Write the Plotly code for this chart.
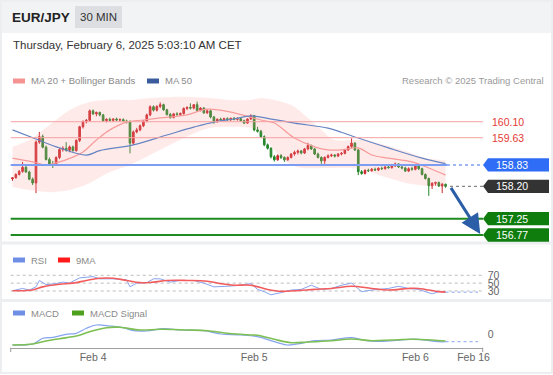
import pandas as pd
import plotly.graph_objects as go

# ---------------- data ----------------
times = pd.date_range("2025-02-03 12:00", periods=130, freq="30min")

open_ = [158.42,158.45,158.55,158.64,158.76,158.62,158.41,158.30,159.50,159.66,
         159.35,158.99,158.86,158.84,159.05,159.28,159.32,159.26,159.36,159.25,
         159.55,159.95,160.10,160.14,160.42,160.33,160.37,160.30,160.13,160.17,
         160.14,160.18,160.15,160.16,160.12,160.10,159.47,159.80,159.86,159.98,
         160.12,160.30,160.54,160.44,160.55,160.60,160.45,160.31,160.22,160.33,
         160.31,160.34,160.49,160.52,160.50,160.60,160.43,160.50,160.36,160.42,
         160.24,160.10,160.17,160.15,160.19,160.16,160.20,160.17,160.19,160.13,
         160.06,160.18,160.28,159.86,159.82,159.66,159.42,159.32,159.07,158.98,
         159.10,159.05,158.98,159.05,159.15,159.20,159.24,159.18,159.30,159.40,
         159.30,159.15,159.05,158.95,159.05,159.10,159.12,159.09,159.15,159.17,
         159.27,159.37,159.47,159.27,158.63,158.58,158.67,158.66,158.70,158.68,
         158.73,158.72,158.77,158.75,158.80,158.86,158.77,158.74,158.65,158.72,
         158.70,158.80,158.72,158.55,158.43,158.22,158.29,158.31,158.21,158.26]
high = [158.47,158.58,158.68,158.92,158.80,158.66,158.46,159.55,159.80,159.72,
        159.40,159.05,158.95,159.08,159.32,159.38,159.50,159.40,159.40,159.58,
        159.98,160.14,160.18,160.46,160.46,160.40,160.40,160.33,160.20,160.22,
        160.20,160.22,160.20,160.20,160.16,160.14,159.84,159.92,160.02,160.14,
        160.34,160.58,160.58,160.58,160.67,160.63,160.48,160.36,160.36,160.38,
        160.37,160.52,160.55,160.64,160.62,160.69,160.53,160.53,160.46,160.45,
        160.27,160.20,160.22,160.22,160.23,160.22,160.24,160.23,160.22,160.16,
        160.20,160.32,160.30,159.95,159.86,159.70,159.46,159.35,159.12,159.14,
        159.15,159.08,159.08,159.18,159.25,159.28,159.27,159.33,159.48,159.43,
        159.33,159.19,159.08,159.08,159.14,159.16,159.15,159.18,159.21,159.30,
        159.40,159.61,159.50,159.30,158.68,158.70,158.72,158.74,158.75,158.76,
        158.78,158.80,158.82,158.84,158.90,158.88,158.81,158.78,158.76,158.78,
        158.85,158.83,158.75,158.58,158.46,158.32,158.34,158.34,158.30,158.28]
low = [158.36,158.43,158.52,158.60,158.60,158.38,158.24,158.00,159.45,159.32,
       158.96,158.80,158.74,158.80,159.00,159.22,159.22,159.20,159.22,159.22,
       159.50,159.90,160.05,160.10,160.30,160.26,160.26,160.10,160.08,160.10,
       160.09,160.12,160.10,160.09,160.05,159.17,159.42,159.76,159.82,159.94,
       160.08,160.26,160.40,160.40,160.50,160.42,160.28,160.19,160.20,160.28,
       160.27,160.31,160.44,160.46,160.46,160.40,160.40,160.33,160.33,160.20,
       160.04,160.07,160.12,160.11,160.13,160.12,160.14,160.13,160.10,160.03,
       160.04,160.15,159.82,159.78,159.62,159.38,159.28,159.02,158.93,158.95,
       159.00,158.92,158.95,159.02,159.10,159.14,159.14,159.15,159.26,159.27,
       159.12,159.02,158.86,158.86,159.02,159.06,159.05,159.06,159.11,159.14,
       159.24,159.33,159.24,158.53,158.54,158.55,158.62,158.63,158.65,158.65,
       158.68,158.69,158.72,158.72,158.77,158.74,158.70,158.62,158.62,158.66,
       158.67,158.68,158.52,158.40,157.92,158.12,158.22,158.18,158.00,158.16]
close = [158.45,158.55,158.64,158.76,158.62,158.41,158.30,159.50,159.66,159.35,
         158.99,158.86,158.84,159.05,159.28,159.32,159.26,159.36,159.25,159.55,
         159.95,160.10,160.14,160.42,160.33,160.37,160.30,160.13,160.17,160.14,
         160.18,160.15,160.16,160.12,160.10,159.47,159.80,159.86,159.98,160.12,
         160.30,160.54,160.44,160.55,160.60,160.45,160.31,160.22,160.33,160.31,
         160.34,160.49,160.52,160.50,160.60,160.43,160.50,160.36,160.42,160.24,
         160.10,160.17,160.15,160.19,160.16,160.20,160.17,160.19,160.13,160.06,
         160.18,160.28,159.86,159.82,159.66,159.42,159.32,159.07,158.98,159.10,
         159.05,158.98,159.05,159.15,159.20,159.24,159.18,159.30,159.40,159.30,
         159.15,159.05,158.95,159.05,159.10,159.12,159.09,159.15,159.17,159.27,
         159.37,159.47,159.27,158.63,158.58,158.67,158.66,158.70,158.68,158.73,
         158.72,158.77,158.75,158.80,158.86,158.77,158.74,158.65,158.72,158.70,
         158.80,158.72,158.55,158.43,158.22,158.29,158.31,158.21,158.26,158.20]

ma50_idx = [0, 7, 14, 22, 26, 36, 46, 54, 60, 66, 71, 76, 84, 94, 98, 103, 112, 122, 129]
ma50_val = [159.86,159.59,159.33,159.12,159.25,159.42,159.71,159.94,160.09,160.18,
            160.27,160.20,160.06,159.91,159.79,159.62,159.33,159.03,158.87]

ma20_idx = [0, 6, 10, 13, 18, 21, 25, 29, 34, 39, 44, 52, 58, 66, 74, 78, 84, 90, 94, 98,
            103, 107, 112, 119, 124, 129]
ma20_val = [159.03,158.92,158.83,158.89,159.06,159.21,159.56,159.86,160.09,160.15,
            160.21,160.30,160.47,160.36,160.15,160.06,159.62,159.36,159.27,159.27,
            159.33,159.12,159.03,158.92,158.74,158.53]

bb_idx = [0, 5, 11, 17, 23, 29, 35, 41, 47, 53, 59, 65, 71, 74, 78, 83, 87, 92, 96, 101,
          105, 109, 114, 118, 123, 129]
bb_upper = [159.36,159.56,160.00,160.44,160.68,160.74,160.74,160.80,160.83,160.83,
            160.80,160.74,160.74,160.80,160.74,160.59,160.30,159.86,159.56,159.56,
            159.56,159.47,159.33,159.21,159.03,158.97]
bb_lower = [158.18,158.09,158.03,158.09,158.30,158.62,158.83,159.12,159.42,159.71,
            159.92,159.95,159.92,159.80,159.27,158.83,158.74,158.74,158.74,158.74,
            158.68,158.53,158.39,158.28,158.22,158.21]

rsi_idx = [0, 3, 5, 7, 8, 10, 13, 15, 17, 20, 24, 26, 30, 34, 35, 37, 40, 42, 44, 47,
           50, 54, 57, 60, 64, 68, 71, 73, 75, 77, 80, 83, 86, 89, 92, 95, 98, 101, 104,
           107, 112, 115, 118, 121, 125, 127, 129]
rsi_val = [30.7,36.5,32.4,40.5,56.8,46.3,48.8,52.7,50.2,63.4,66.6,61.0,61.0,58.5,40.5,
           50.2,51.2,61.0,61.0,52.7,56.8,56.8,50.2,40.5,42.0,44.6,48.8,34.0,28.3,20.2,
           26.0,32.4,34.0,44.6,34.0,36.5,44.6,50.2,28.3,32.4,36.5,42.0,36.5,34.0,22.7,
           28.3,27.0]

rsi_ma_idx = [0, 6, 9, 14, 18, 22, 26, 30, 34, 38, 42, 46, 52, 58, 62, 66, 71, 76, 80, 84,
              90, 95, 101, 107, 112, 118, 121, 127, 129]
rsi_ma_val = [30.7,32.4,40.5,47.0,50.0,56.8,62.5,62.5,56.8,51.2,52.7,56.8,56.8,55.0,48.8,
              44.6,44.6,34.0,29.2,30.5,34.0,36.5,42.0,36.5,32.4,36.5,36.5,28.3,27.0]

macd_idx = [0, 6, 9, 12, 16, 19, 22, 25, 29, 33, 36, 40, 45, 50, 57, 62, 68, 73, 78, 82,
            86, 90, 95, 101, 106, 112, 118, 121, 127, 129]
macd_val = [-0.110,-0.100,-0.043,-0.033,-0.003,0.007,0.057,0.090,0.080,0.063,0.033,0.030,
            0.053,0.040,0.033,0.000,-0.010,-0.027,-0.077,-0.110,-0.093,-0.067,-0.060,
            -0.037,-0.070,-0.070,-0.053,-0.053,-0.077,-0.077]

sig_idx = [0, 6, 10, 14, 19, 23, 28, 32, 38, 44, 52, 58, 64, 71, 73, 78, 83, 88, 95, 101,
           107, 113, 119, 125, 129]
sig_val = [-0.110,-0.100,-0.070,-0.047,-0.020,0.023,0.063,0.067,0.040,0.047,0.040,0.033,
           0.007,-0.010,-0.013,-0.053,-0.087,-0.080,-0.067,-0.050,-0.067,-0.060,-0.053,
           -0.060,-0.070]

resistance = [160.10, 159.63]
pivot = 158.83
last_price = 158.20
supports = [157.25, 156.77]
target = 156.77

tick_vals = ["2025-02-04 00:00", "2025-02-05 00:00", "2025-02-06 00:00", "2025-02-06 08:40"]
tick_text = ["Feb 4", "Feb 5", "Feb 6", "Feb 16"]
ext_end = "2025-02-06 09:20"

# ---------------- layout helpers ----------------
W, H = 553, 375
FONT = "Liberation Sans, Arial, sans-serif"
def px(x):
    return x / W
def py(y):
    return 1 - y / H

X0, X1 = 10.7, 482.7
def t(idx):
    return [times[i] for i in idx]

fig = go.Figure()

# Bollinger band fill
fig.add_trace(go.Scatter(x=t(bb_idx), y=bb_upper, mode="lines", line=dict(width=0, shape="spline"),
                         hoverinfo="skip", showlegend=False))
fig.add_trace(go.Scatter(x=t(bb_idx), y=bb_lower, mode="lines", line=dict(width=0, shape="spline"),
                         fill="tonexty", fillcolor="rgba(255,150,150,0.2)", hoverinfo="skip",
                         showlegend=False))
fig.add_trace(go.Scatter(x=t(ma20_idx), y=ma20_val, mode="lines",
                         line=dict(color="#f79a9a", width=1.2, shape="spline"), showlegend=False))
fig.add_trace(go.Scatter(x=t(ma50_idx), y=ma50_val, mode="lines",
                         line=dict(color="#6685c2", width=1.2, shape="spline"), showlegend=False))

fig.add_trace(go.Candlestick(
    x=times, open=open_, high=high, low=low, close=close,
    increasing=dict(line=dict(color="#c9282d", width=1), fillcolor="#d32f2f"),
    decreasing=dict(line=dict(color="#23862a", width=1), fillcolor="#2e8b2e"),
    whiskerwidth=0, showlegend=False))

# RSI panel
fig.add_trace(go.Scatter(x=t(rsi_idx), y=rsi_val, mode="lines", yaxis="y2",
                         line=dict(color="#86a3ee", width=1), showlegend=False))
fig.add_trace(go.Scatter(x=t(rsi_ma_idx), y=rsi_ma_val, mode="lines", yaxis="y2",
                         line=dict(color="#f25c5c", width=1.6, shape="spline"), showlegend=False))
fig.add_trace(go.Scatter(x=[times[rsi_idx[-1]], ext_end], y=[rsi_val[-1], rsi_val[-1]],
                         mode="lines", yaxis="y2", line=dict(color="#86a3ee", width=1, dash="dot"),
                         showlegend=False))

# MACD panel
fig.add_trace(go.Scatter(x=t(macd_idx), y=macd_val, mode="lines", yaxis="y3",
                         line=dict(color="#86a3ee", width=1.2, shape="spline"), showlegend=False))
fig.add_trace(go.Scatter(x=t(sig_idx), y=sig_val, mode="lines", yaxis="y3",
                         line=dict(color="#7cbf52", width=1.6, shape="spline"), showlegend=False))
fig.add_trace(go.Scatter(x=[times[macd_idx[-1]], ext_end], y=[macd_val[-1], macd_val[-1]],
                         mode="lines", yaxis="y3", line=dict(color="#86a3ee", width=1, dash="dot"),
                         showlegend=False))

shapes = []
# header bar and frame
shapes.append(dict(type="rect", xref="paper", yref="paper", x0=0, x1=1, y0=py(33), y1=1,
                   fillcolor="#f2f3f5", line=dict(width=0), layer="below"))
shapes.append(dict(type="rect", xref="paper", yref="paper", x0=px(75), x1=px(122),
                   y0=py(28), y1=py(6), fillcolor="#dcdee2", line=dict(width=0), layer="below"))
for ys in (243, 300.5):
    shapes.append(dict(type="line", xref="paper", yref="paper", x0=0, x1=1, y0=py(ys), y1=py(ys),
                       line=dict(color="#eceef0", width=3), layer="below"))
shapes.append(dict(type="rect", xref="paper", yref="paper", x0=px(1), x1=px(552), y0=py(373),
                   y1=py(1), line=dict(color="#eceef0", width=2), layer="below"))

# level lines
for v in resistance:
    shapes.append(dict(type="line", xref="paper", yref="y", x0=px(X0), x1=px(483), y0=v, y1=v,
                       line=dict(color="#f6a1a1", width=1)))
shapes.append(dict(type="line", xref="paper", yref="y", x0=px(X0), x1=px(447), y0=pivot, y1=pivot,
                   line=dict(color="#7d9df2", width=2)))
shapes.append(dict(type="line", xref="paper", yref="y", x0=px(447), x1=px(483), y0=pivot, y1=pivot,
                   line=dict(color="#7d9df2", width=1.5, dash="dot")))
shapes.append(dict(type="line", xref="paper", yref="y", x0=px(450), x1=px(483), y0=last_price,
                   y1=last_price, line=dict(color="#888888", width=1.2, dash="dot")))
for v in supports:
    shapes.append(dict(type="line", xref="paper", yref="y", x0=px(X0), x1=px(483), y0=v, y1=v,
                       line=dict(color="#1f8a1f", width=2)))
# RSI dotted levels
for v in (30, 50, 70):
    shapes.append(dict(type="line", xref="paper", yref="y2", x0=px(X0), x1=px(X1), y0=v, y1=v,
                       line=dict(color="#bdbdbd", width=1, dash="dot"), layer="below"))
# x axis end ticks
for xx in (X0, X1):
    shapes.append(dict(type="line", xref="paper", yref="paper", x0=px(xx), x1=px(xx),
                       y0=py(347.7), y1=py(352), line=dict(color="#999999", width=1)))

# price label boxes
half = 6.7 / 34.02
def box(v, color):
    return dict(type="path", xref="paper", yref="y",
                path=(f"M {px(483)},{v} L {px(488)},{v + half} L {px(549)},{v + half} "
                      f"L {px(549)},{v - half} L {px(488)},{v - half} Z"),
                fillcolor=color, line=dict(width=0))
shapes.append(box(pivot, "#2f6df6"))
shapes.append(box(last_price, "#333333"))
for v in supports:
    shapes.append(box(v, "#0e7d0e"))

# legend swatches
def swatch(x, y, color):
    return dict(type="rect", xref="paper", yref="paper", x0=px(x), x1=px(x + 12),
                y0=py(y + 2.5), y1=py(y - 2.5), fillcolor=color, line=dict(width=0))
shapes += [swatch(13, 81, "#f59393"), swatch(147, 81, "#3a5c9c"),
           swatch(13, 260, "#6f8fe6"), swatch(58, 260, "#ff1a1a"),
           swatch(13, 313, "#6f8fe6"), swatch(72, 313, "#4ea01e")]

ann = []
def text(x, y, s, size, color, bold=False, anchor="left"):
    ann.append(dict(xref="paper", yref="paper", x=px(x), y=py(y), text=(f"<b>{s}</b>" if bold else s),
                    showarrow=False, xanchor=anchor, yanchor="middle",
                    font=dict(family=FONT, size=size, color=color)))
text(10, 17, "EUR/JPY", 13.5, "#222222", bold=True)
text(98.5, 17, "30 MIN", 11.5, "#333333", anchor="center")
text(11, 45, "Thursday, February 6, 2025 5:03:10 AM CET", 11.5, "#333333")
text(29, 81, "MA 20 + Bollinger Bands", 9.5, "#8a8a8a")
text(163, 81, "MA 50", 9.5, "#8a8a8a")
text(546, 81, "Research © 2025 Trading Central", 9.5, "#9a9a9a", anchor="right")
text(29, 260, "RSI", 9.5, "#8a8a8a")
text(74, 260, "9MA", 9.5, "#8a8a8a")
text(29, 313, "MACD", 9.5, "#8a8a8a")
text(88, 313, "MACD Signal", 9.5, "#8a8a8a")

for v in resistance:
    ann.append(dict(xref="paper", yref="y", x=px(508), y=v, text=f"{v:.2f}", showarrow=False,
                    xanchor="center", yanchor="middle", font=dict(family=FONT, size=10.5, color="#e53935")))
for v in [pivot, last_price] + supports:
    ann.append(dict(xref="paper", yref="y", x=px(512), y=v, text=f"{v:.2f}", showarrow=False,
                    xanchor="center", yanchor="middle", font=dict(family=FONT, size=10.5, color="#ffffff")))

# forecast arrow
ann.append(dict(x="2025-02-06 09:40", y=target + 0.03, xref="x", yref="y",
                ax="2025-02-06 05:10", ay=last_price, axref="x", ayref="y",
                showarrow=True, arrowhead=2, arrowsize=1.3, arrowwidth=3, arrowcolor="#2b5ea7",
                text=""))

fig.update_layout(
    width=W, height=H, autosize=False, margin=dict(l=0, r=0, t=0, b=0, pad=0),
    paper_bgcolor="white", plot_bgcolor="rgba(0,0,0,0)",
    font=dict(family=FONT, size=10, color="#666666"),
    showlegend=False, hovermode=False,
    xaxis=dict(domain=[px(X0), px(X1)], anchor="y3", type="date", automargin=False,
               range=["2025-02-03 11:44", "2025-02-06 10:02"],
               tickvals=tick_vals, ticktext=tick_text, tickfont=dict(size=10.5, color="#666666"),
               showline=True, linecolor="#a0a0a0", linewidth=1, showgrid=False, zeroline=False,
               ticks="", rangeslider=dict(visible=False)),
    yaxis=dict(domain=[py(242), py(88)], range=[156.564, 161.091], showgrid=False, automargin=False,
               zeroline=False, showticklabels=False, anchor="x"),
    yaxis2=dict(domain=[py(299), py(246)], range=[9.6, 144.6], showgrid=False, zeroline=False,
                tickvals=[30, 50, 70], side="right", anchor="x", ticks="", automargin=False,
                ticklabelstandoff=4, tickfont=dict(size=10.5, color="#666666")),
    yaxis3=dict(domain=[py(347.7), py(302)], range=[-0.137, 0.32], showgrid=False, zeroline=False,
                tickvals=[0], side="right", anchor="x", ticks="", automargin=False,
                ticklabelstandoff=4, tickfont=dict(size=10.5, color="#666666")),
    shapes=shapes, annotations=ann,
)

fig.write_html("out.html", config={"displayModeBar": False, "responsive": False},
               post_script=("document.documentElement.style.overflow='hidden';"
                            "document.body.style.overflow='hidden';"
                            "document.body.style.margin='0';"))
